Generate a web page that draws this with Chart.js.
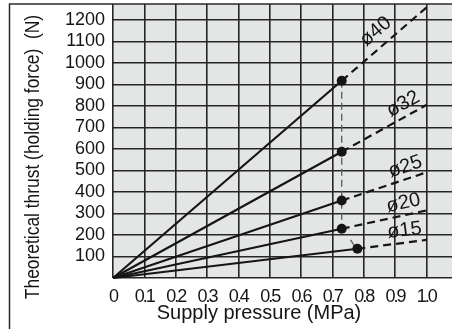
<!DOCTYPE html>
<html>
<head>
<meta charset="utf-8">
<script src="https://cdn.jsdelivr.net/npm/chart.js@4/dist/chart.umd.min.js"></script>
<style>
  html, body { margin: 0; padding: 0; background: #ffffff; }
  #wrap { width: 452px; height: 329px; }
</style>
</head>
<body>
<div id="wrap"><canvas id="thrust" width="452" height="329"></canvas></div>
<script>
// Bore sizes and readings of theoretical thrust (N) against supply pressure (MPa)
const boreLabels    = ['ø40', 'ø32', 'ø25', 'ø20', 'ø15'];
const markPressure  = [0.73, 0.73, 0.73, 0.73, 0.78];   // upper limit of normal use (dot)
const markThrust    = [917, 587, 360, 229, 136];
const endPressure   = 1.0;
const endThrust     = [1257, 804, 491, 314, 177];
const labelPressure = [0.87, 0.945, 0.945, 0.935, 0.935]; // where each bore label sits along its line

// Leader lines joining the dots
const leaderPressure = [0.73, 0.73];
const leaderThrust   = [917, 229];
const tailPressure   = [0.758, 0.775];
const tailThrust     = [177, 140];

// Axis ticks
const xTickValues = [0, 0.1, 0.2, 0.3, 0.4, 0.5, 0.6, 0.7, 0.8, 0.9, 1.0];
const xTickLabels = ['0', '0.1', '0.2', '0.3', '0.4', '0.5', '0.6', '0.7', '0.8', '0.9', '1.0'];
const yTickValues = [0, 100, 200, 300, 400, 500, 600, 700, 800, 900, 1000, 1100, 1200];
const yTickLabels = ['', '100', '200', '300', '400', '500', '600', '700', '800', '900', '1000', '1100', '1200'];

const xTitle = 'Supply pressure (MPa)';
const yTitle = 'Theoretical thrust (holding force)  (N)';

const SANS = "'Liberation Sans', Arial, Helvetica, sans-serif";
const INK = '#151515';

const boreSets = boreLabels.map((name, i) => ({
  label: name,
  data: [
    { x: 0, y: 0 },
    { x: markPressure[i], y: markThrust[i] },
    { x: endPressure, y: endThrust[i] }
  ],
  showLine: true,
  borderColor: INK,
  backgroundColor: INK,
  borderWidth: 2.2,
  pointRadius: ctx => (ctx.dataIndex === 1 ? 5 : 0),
  pointHoverRadius: 0,
  pointBorderWidth: 0,
  segment: {
    borderDash: ctx => (ctx.p0DataIndex === 1 ? [8, 5] : undefined)
  },
  clip: false
}));

const leaderSet = {
  label: 'leader',
  data: leaderPressure.map((p, i) => ({ x: p, y: leaderThrust[i] })),
  showLine: true,
  borderColor: '#5a5a5a',
  borderWidth: 1.3,
  borderDash: [7, 4],
  pointRadius: 0
};
const tailSet = {
  label: 'tail',
  data: tailPressure.map((p, i) => ({ x: p, y: tailThrust[i] })),
  showLine: true,
  borderColor: '#5a5a5a',
  borderWidth: 1.3,
  pointRadius: 0
};

const decor = {
  id: 'decor',
  beforeDraw(chart) {
    const { ctx, chartArea: a } = chart;
    ctx.save();
    ctx.fillStyle = '#e4e6e6';
    ctx.fillRect(a.left, a.top, a.right - a.left, a.bottom - a.top);
    ctx.restore();
    // pressure tick labels are set a little tighter than the rest
    ctx.letterSpacing = '-2px';
  },
  beforeDatasetsDraw(chart) {
    chart.ctx.letterSpacing = '0px';
  },
  afterDatasetsDraw(chart) {
    const { ctx } = chart;
    const xs = chart.scales.x, ys = chart.scales.y;
    const x0 = xs.getPixelForValue(0), y0 = ys.getPixelForValue(0);
    ctx.save();
    ctx.fillStyle = INK;
    ctx.font = '20px ' + SANS;
    ctx.textAlign = 'center';
    ctx.textBaseline = 'middle';
    boreLabels.forEach((name, i) => {
      const x1 = xs.getPixelForValue(endPressure), y1 = ys.getPixelForValue(endThrust[i]);
      const ang = Math.atan2(y1 - y0, x1 - x0);
      const p = labelPressure[i];
      const px = xs.getPixelForValue(p);
      const py = ys.getPixelForValue(endThrust[i] * p / endPressure);
      const off = i === 0 ? 15 : 12;
      ctx.save();
      ctx.translate(px + Math.sin(ang) * off, py - Math.cos(ang) * off);
      ctx.rotate(ang);
      ctx.fillText(name, 0, 0);
      ctx.restore();
    });
    ctx.restore();
  },
  afterDraw(chart) {
    const { ctx } = chart;
    ctx.save();
    ctx.letterSpacing = '0px';
    // outer frame, top and left
    ctx.strokeStyle = '#2a2a2a';
    ctx.lineWidth = 1.5;
    ctx.beginPath();
    ctx.moveTo(9.5, 329);
    ctx.lineTo(9.5, 4);
    ctx.lineTo(452, 4);
    ctx.stroke();

    ctx.fillStyle = INK;
    ctx.textAlign = 'center';
    ctx.textBaseline = 'alphabetic';
    ctx.font = '20px ' + SANS;
    ctx.fillText(xTitle, 259, 319);

    ctx.translate(39, 157);
    ctx.rotate(-Math.PI / 2);
    ctx.scale(0.87, 1);
    ctx.font = '20px ' + SANS;
    ctx.fillText(yTitle, 0, 0);
    ctx.restore();
  }
};

new Chart(document.getElementById('thrust'), {
  type: 'scatter',
  data: { datasets: [...boreSets, leaderSet, tailSet] },
  options: {
    responsive: false,
    devicePixelRatio: 1,
    animation: false,
    events: [],
    layout: { autoPadding: false, padding: { left: 0, right: 0, top: 4, bottom: 0 } },
    plugins: { legend: { display: false }, tooltip: { enabled: false } },
    scales: {
      x: {
        type: 'linear',
        min: 0,
        max: 1.082,
        afterBuildTicks: s => { s.ticks = xTickValues.map(v => ({ value: v })); },
        afterFit: s => {
          s.height = 51;
          s.paddingLeft = 0; s.paddingRight = 0; s.paddingTop = 0; s.paddingBottom = 0;
        },
        border: { display: false },
        grid: { color: '#262626', lineWidth: 1.6, drawTicks: false },
        ticks: {
          padding: 8,
          color: INK,
          font: { family: SANS, size: 18 },
          maxRotation: 0,
          autoSkip: false,
          callback: (v, i) => xTickLabels[i]
        }
      },
      y: {
        type: 'linear',
        min: 0,
        max: 1274,
        afterBuildTicks: s => { s.ticks = yTickValues.map(v => ({ value: v })); },
        afterFit: s => {
          s.width = 113;
          s.paddingLeft = 0; s.paddingRight = 0; s.paddingTop = 0; s.paddingBottom = 0;
        },
        border: { display: false },
        grid: { color: '#262626', lineWidth: 1.6, drawTicks: false },
        ticks: {
          z: 1,
          padding: 8,
          color: INK,
          font: { family: SANS, size: 18 },
          autoSkip: false,
          callback: (v, i) => yTickLabels[i]
        }
      }
    }
  },
  plugins: [decor]
});
</script>
</body>
</html>
